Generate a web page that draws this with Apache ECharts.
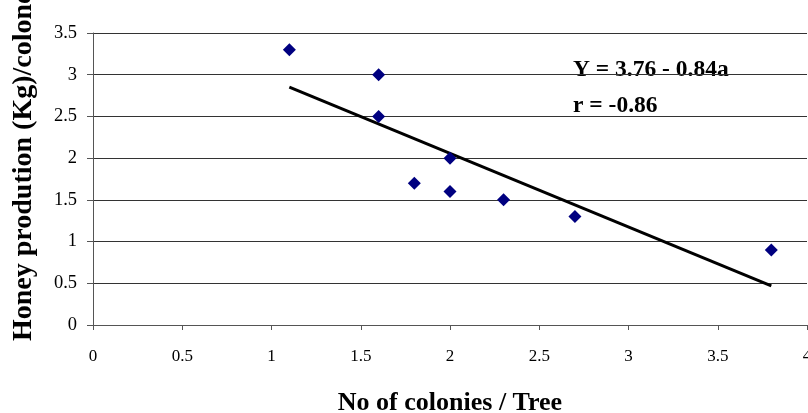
<!DOCTYPE html>
<html><head><meta charset="utf-8">
<script src="https://cdn.jsdelivr.net/npm/echarts@6/dist/echarts.min.js"></script>
<style>html,body{margin:0;padding:0;background:#fff}#c{width:808px;height:413px}</style>
</head><body><div id="c"></div>
<script>
var colonies = [1.1, 1.6, 1.6, 2.0, 1.8, 2.0, 2.3, 2.7, 3.8];
var honey = [3.3, 3.0, 2.5, 2.0, 1.7, 1.6, 1.5, 1.3, 0.9];
var trendX = [1.1, 3.8];
var trendY = [2.85, 0.47];
var xTitle = 'No of colonies / Tree';
var yTitle = 'Honey prodution (Kg)/colone';
var eqText = 'Y = 3.76 - 0.84a';
var rText = 'r = -0.86';

var serif = '"Liberation Serif", "Times New Roman", serif';
var chart = echarts.init(document.getElementById('c'));
chart.setOption({
  animation: false,
  backgroundColor: '#fff',
  grid: {left: 93, right: 1, top: 33, bottom: 88, containLabel: false, outerBoundsMode: 'none'},
  xAxis: {
    type: 'value', min: 0, max: 4, interval: 0.5,
    name: xTitle, nameLocation: 'middle', nameGap: 65,
    nameTextStyle: {fontFamily: serif, fontWeight: 'bold', fontSize: 26, color: '#000'},
    axisLine: {show: true, lineStyle: {color: '#555', width: 1}},
    axisTick: {show: true, length: 5, lineStyle: {color: '#555'}},
    axisLabel: {fontFamily: serif, fontSize: 17, color: '#000', margin: 23},
    splitLine: {show: false}
  },
  yAxis: {
    type: 'value', min: 0, max: 3.5, interval: 0.5,
    axisLine: {show: true, lineStyle: {color: '#555', width: 1}},
    axisTick: {show: true, length: 6, lineStyle: {color: '#555'}},
    axisLabel: {fontFamily: serif, fontSize: 18.5, color: '#000', margin: 16},
    splitLine: {show: true, lineStyle: {color: '#333', width: 1}}
  },
  graphic: [
    {type: 'text', x: 24, y: 341, rotation: Math.PI / 2,
     style: {text: yTitle, textAlign: 'left', textVerticalAlign: 'middle',
             font: 'bold 28px ' + serif, fill: '#000'}},
    {type: 'text', x: 573, y: 70,
     style: {text: eqText, textAlign: 'left', textVerticalAlign: 'middle',
             font: 'bold 23.5px ' + serif, fill: '#000'}},
    {type: 'text', x: 573, y: 106,
     style: {text: rText, textAlign: 'left', textVerticalAlign: 'middle',
             font: 'bold 23.5px ' + serif, fill: '#000'}}
  ],
  series: [
    {type: 'line', data: trendX.map(function (x, i) { return [x, trendY[i]]; }),
     symbol: 'none', lineStyle: {color: '#000', width: 3}, z: 2},
    {type: 'scatter', data: colonies.map(function (x, i) { return [x, honey[i]]; }),
     symbol: 'diamond', symbolSize: 13, itemStyle: {color: '#000080', opacity: 1}, z: 3}
  ]
});
</script></body></html>
